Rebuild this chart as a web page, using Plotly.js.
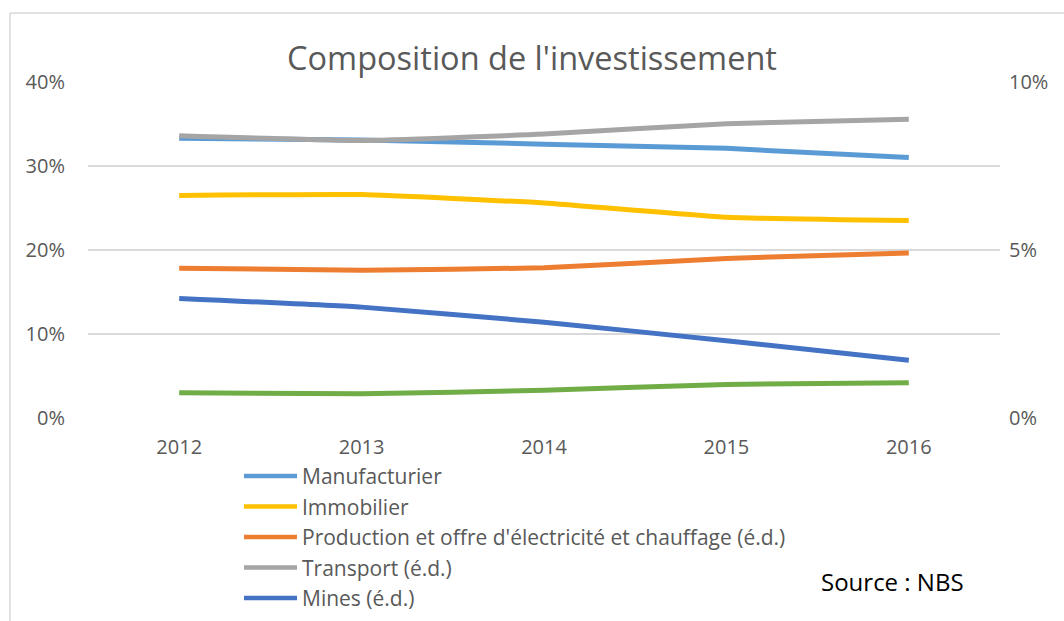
<!DOCTYPE html>
<html>
<head>
<meta charset="utf-8">
<script src="https://cdn.plot.ly/plotly-3.0.1.min.js"></script>
<style>html,body{margin:0;padding:0;background:#fff;}#chart{width:1064px;height:621px;}</style>
</head>
<body>
<div id="chart"></div>
<script>
const years = ['2012', '2013', '2014', '2015', '2016'];
// left axis series
const manufacturier = [0.333, 0.331, 0.326, 0.321, 0.310];
const immobilier = [0.265, 0.266, 0.256, 0.239, 0.235];
const autre = [0.030, 0.029, 0.033, 0.040, 0.042]; // green line, not named in legend
// right axis series (é.d.)
const production = [0.0446, 0.0440, 0.0447, 0.0475, 0.0491];
const transport = [0.0840, 0.0826, 0.0845, 0.0876, 0.0889];
const mines = [0.0356, 0.0330, 0.0285, 0.0230, 0.0172];

const names = ['Manufacturier', 'Immobilier', "Production et offre d'électricité et chauffage (é.d.)", 'Transport (é.d.)', 'Mines (é.d.)'];
const colors = ['#5B9BD5', '#FFC000', '#ED7D31', '#A5A5A5', '#4472C4', '#70AD47'];
const leftTicks = [0, 0.1, 0.2, 0.3, 0.4];
const rightTicks = [0, 0.05, 0.1];

const lw = 5;
const mk = (y, name, color, axis) => ({
  x: years, y: y, name: name, type: 'scatter', mode: 'lines', yaxis: axis,
  line: {color: color, width: lw, shape: 'spline', smoothing: 0.4}, showlegend: false
});

const data = [
  mk(manufacturier, names[0], colors[0], 'y'),
  mk(immobilier, names[1], colors[1], 'y'),
  mk(autre, 'Autre', colors[5], 'y'),
  mk(production, names[2], colors[2], 'y2'),
  mk(transport, names[3], colors[3], 'y2'),
  mk(mines, names[4], colors[4], 'y2')
];

const font = 'Open Sans, sans-serif';
const PL = 88, PW = 912, PB = 418, PH = 336;
const px = v => (v - PL) / PW;
const py = v => (PB - v) / PH;

const shapes = [
  {type: 'line', xref: 'paper', yref: 'paper', x0: px(10), x1: px(1070), y0: py(13), y1: py(13), line: {color: '#D9D9D9', width: 1.5}},
  {type: 'line', xref: 'paper', yref: 'paper', x0: px(10), x1: px(10), y0: py(13), y1: py(630), line: {color: '#D9D9D9', width: 1.5}}
];
const annotations = [
  {text: 'Source : NBS', xref: 'paper', yref: 'paper', x: px(892), y: py(581),
   xanchor: 'center', yanchor: 'middle', showarrow: false, font: {family: font, size: 24, color: '#000'}}
];
// legend built from names / colors
names.forEach((n, i) => {
  const yy = 476 + i * 30.5;
  shapes.push({type: 'line', xref: 'paper', yref: 'paper', x0: px(244), x1: px(297), y0: py(yy), y1: py(yy),
               line: {color: colors[i], width: 4.5}});
  annotations.push({text: n, xref: 'paper', yref: 'paper', x: px(300), y: py(yy), xanchor: 'left', yanchor: 'middle',
                    showarrow: false, font: {family: font, size: 21, color: '#595959'}});
});

const layout = {
  width: 1064, height: 621,
  margin: {l: PL, r: 64, t: 82, b: 203},
  paper_bgcolor: '#fff', plot_bgcolor: '#fff',
  font: {family: font, color: '#595959', size: 20},
  showlegend: false,
  title: {text: "Composition de l'investissement", font: {family: font, size: 32.5, color: '#595959'},
          x: 0.5, xanchor: 'center', y: 0.905, yanchor: 'middle'},
  xaxis: {type: 'category', showgrid: false, zeroline: false, showline: false, ticks: '',
          tickfont: {size: 20, color: '#595959'}, range: [-0.5, 4.5], ticklabelstandoff: 15},
  yaxis: {range: [0, 0.4], tickvals: leftTicks, tickformat: '.0%', gridcolor: '#D9D9D9', gridwidth: 1.5,
          zeroline: false, showline: false, ticks: '', ticklabelstandoff: 22,
          tickfont: {size: 20, color: '#595959'}},
  yaxis2: {range: [0, 0.1], tickvals: rightTicks, tickformat: '.0%', overlaying: 'y', side: 'right',
           showgrid: false, zeroline: false, showline: false, ticks: '', ticklabelstandoff: 8,
           tickfont: {size: 20, color: '#595959'}},
  shapes: shapes,
  annotations: annotations
};

Plotly.newPlot('chart', data, layout, {displayModeBar: false, staticPlot: true});
</script>
</body>
</html>
